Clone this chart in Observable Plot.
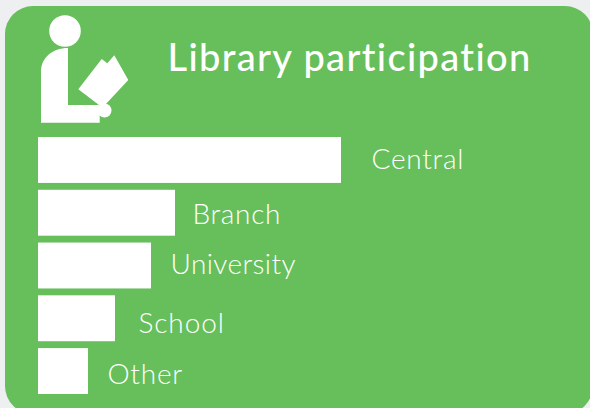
<!DOCTYPE html>
<html>
<head>
<meta charset="utf-8">
<script src="https://cdn.jsdelivr.net/npm/d3@7"></script>
<script src="https://cdn.jsdelivr.net/npm/@observablehq/plot@0.6"></script>
<style>
html,body{margin:0;padding:0;width:590px;height:408px;overflow:hidden;background:#eeeff1;}
#wrap{position:relative;width:590px;height:408px;overflow:hidden;}
#card{position:absolute;left:4.5px;top:6px;width:588px;height:408px;background:#66bf5a;border-radius:28px;}
#icon{position:absolute;left:0;top:0;}
#plot{position:absolute;left:0;top:0;}
#plot svg{background:transparent;display:block;font-variant-ligatures:none;}
</style>
</head>
<body>
<div id="wrap">
  <div id="card"></div>
  <svg id="icon" width="590" height="408" fill="#fff">
    <circle cx="65" cy="31" r="15.8"/>
    <path d="M68,48 C52,48 41,58 41,72 V122.7 H99.7 V105 H68 Z"/>
    <circle cx="104.5" cy="110.5" r="7"/>
    <path d="M78.3,89.3 L101.7,59 L107.3,63.3 L114.3,55.3 L128.3,80 L105,105 H99 Z"/>
  </svg>
  <div id="plot"></div>
</div>
<script>
const categories = ["Central", "Branch", "University", "School", "Other"];
const values = [303, 137, 113, 77, 50];
const chartTitle = "Library participation";

const rows = categories.map((name, i) => ({name, value: values[i]}));
const labelNudge = {Central: [30, 0], Branch: [17, 2], University: [19, -1], School: [23, 5], Other: [19, 3]};
const labelSpacing = {Central: 0.75, Branch: 0.7, University: 0.4, School: 0.9, Other: 0.8};
const font = "Lato, 'Open Sans', sans-serif";

const chart = Plot.plot({
  width: 590,
  height: 408,
  marginLeft: 38,
  marginRight: 249,
  marginTop: 137,
  marginBottom: 14,
  style: {background: "transparent", overflow: "visible"},
  x: {domain: [0, 303], axis: null},
  y: {domain: categories, axis: null, paddingInner: 0.13, paddingOuter: 0, round: false},
  marks: [
    Plot.barX(rows, {y: "name", x: "value", fill: "#fff"}),
    ...rows.map(r => Plot.text([r], {
      y: "name", x: "value", text: "name", textAnchor: "start",
      dx: labelNudge[r.name][0], dy: labelNudge[r.name][1],
      fill: "#fff", fontSize: 28, fontWeight: 300, fontFamily: font,
      className: "lbl-" + r.name
    })),
    Plot.text([chartTitle], {
      frameAnchor: "top-left", dx: 129, dy: -79, lineAnchor: "middle",
      text: d => d, textAnchor: "start",
      fill: "#fff", fontSize: 38, fontWeight: 500, fontFamily: font,
      className: "ttl"
    })
  ]
});
chart.querySelectorAll(".ttl text, text.ttl").forEach(t => { t.style.letterSpacing = "1.35px"; });
categories.forEach(c => {
  chart.querySelectorAll(`.lbl-${c} text, text.lbl-${c}`).forEach(t => { t.style.letterSpacing = labelSpacing[c] + "px"; });
});
document.getElementById("plot").appendChild(chart);
</script>
</body>
</html>
